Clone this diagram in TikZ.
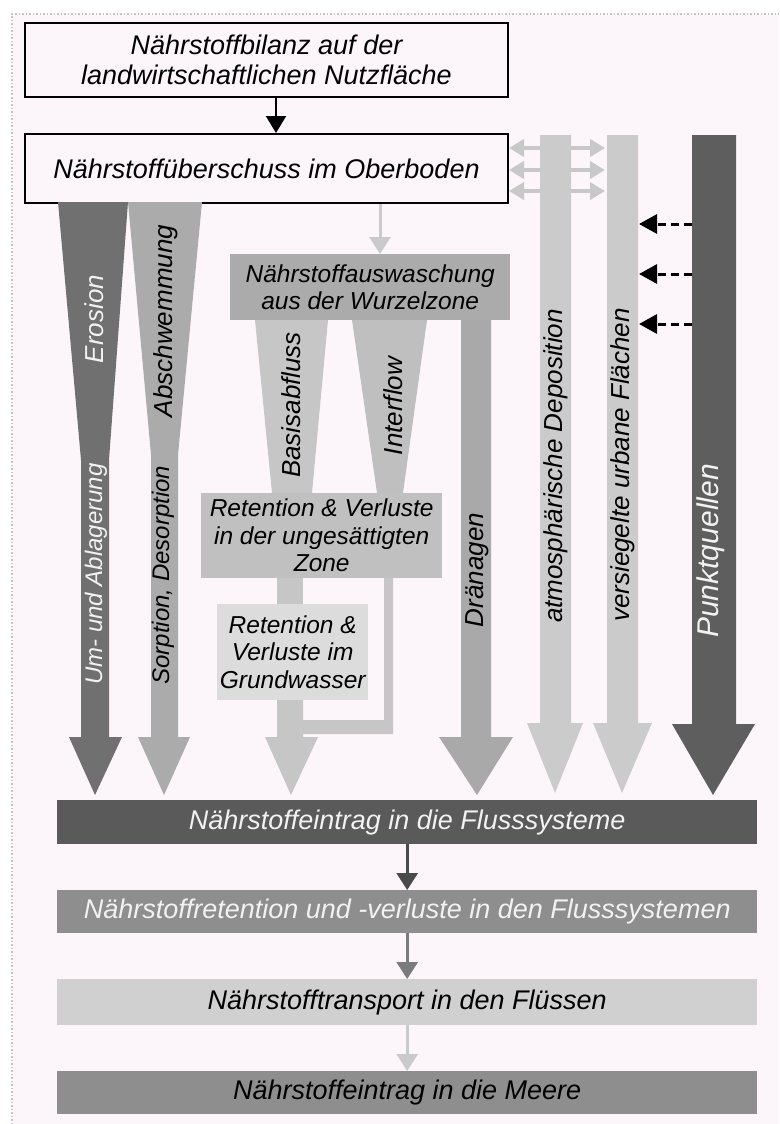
\documentclass[tikz,border=0pt]{standalone}
\usepackage{fontspec}
\setmainfont{Liberation Sans}
\usetikzlibrary{arrows.meta}
\definecolor{bgpink}{HTML}{FCF6FB}
\definecolor{framec}{HTML}{C4C4C4}
\definecolor{erosionc}{HTML}{707070}
\definecolor{absc}{HTML}{ABABAB}
\definecolor{ausc}{HTML}{ABABAB}
\definecolor{basisc}{HTML}{C6C6C6}
\definecolor{interc}{HTML}{BFBFBF}
\definecolor{retonec}{HTML}{C0C0C0}
\definecolor{rettwoc}{HTML}{DCDCDC}
\definecolor{gwc}{HTML}{C6C6C6}
\definecolor{drainc}{HTML}{A9A9A9}
\definecolor{atmosc}{HTML}{CBCBCB}
\definecolor{punktc}{HTML}{5E5E5E}
\definecolor{boxac}{HTML}{5A5A5A}
\definecolor{boxbc}{HTML}{8E8E8E}
\definecolor{boxcc}{HTML}{D0D0D0}
\definecolor{boxdc}{HTML}{8E8E8E}
\definecolor{lighttxt}{HTML}{F2F2F2}
\definecolor{arra}{HTML}{4A4A4A}
\definecolor{arrb}{HTML}{7B7B7B}
\definecolor{arrc}{HTML}{CACACA}
\definecolor{dblc}{HTML}{C8C8C8}
\tikzset{
  big/.style={font=\fontsize{27}{30}\selectfont\itshape, align=center, inner sep=0pt},
  small/.style={font=\fontsize{24.5}{27.5}\selectfont\itshape, align=center, inner sep=0pt},
  wbox/.style={big, draw=black, line width=2pt, fill=bgpink, anchor=north west},
  gbox/.style={anchor=north west, inner sep=0pt, align=center},
  vlbl/.style={font=\fontsize{26}{28}\selectfont\itshape, rotate=90, inner sep=0pt},
  vsmall/.style={font=\fontsize{24}{26}\selectfont\itshape, rotate=90, inner sep=0pt},
  flowarrow/.style={line width=3pt, -{Triangle[width=21pt,length=17pt]}},
  dblarrow/.style={dblc, line width=4pt, {Triangle[width=17pt,length=15pt]}-{Triangle[width=17pt,length=15pt]}},
  dasharrow/.style={black, line width=3pt, dash pattern=on 8pt off 5pt, -{Triangle[width=19pt,length=18pt]}}
}
\begin{document}
\begin{tikzpicture}[x=1pt,y=-1pt]
\useasboundingbox (0,0) rectangle (779,1124);
\fill[white] (0,0) rectangle (779,1124);
\fill[bgpink] (12,14) rectangle (779,1124);
\draw[framec, dotted, line width=1.5pt] (12,1124) -- (12,14) -- (779,14);

% helper coordinates
\coordinate (lx) at (380,0);
\coordinate (bx) at (276,0);
\coordinate (atmosL) at (540,0);
\coordinate (urbanL) at (605,0);
\coordinate (punktL) at (692,0);
\coordinate (urbanR) at (639,0);

% top boxes
\node[wbox, minimum width=483pt, minimum height=74pt] (bilanz) at (24,22)
  {Nährstoffbilanz auf der\\landwirtschaftlichen Nutzfläche};
\node[wbox, minimum width=483pt, minimum height=69pt] (ueberschuss) at (24,133)
  {Nährstoffüberschuss im Oberboden};
\draw[black, line width=2pt, -{Triangle[width=20pt,length=17pt]}]
  (bilanz.south -| bx) -- (ueberschuss.north -| bx);

% Erosion funnel
\fill[erosionc] (58,202) -- (128,202) -- (109,460) -- (109,737) -- (122,737)
  -- (95,795) -- (69,737) -- (81,737) -- (81,460) -- cycle;
% Abschwemmung funnel
\fill[absc] (128,202) -- (202,202) -- (178,455) -- (178,737) -- (190,737)
  -- (164,795) -- (138,737) -- (151,737) -- (151,455) -- cycle;
\node[vlbl, text=lighttxt] (erosion) at (94,319) {Erosion};
\node[vlbl] (abschw) at (166,321) {Abschwemmung};
\node[vsmall, text=lighttxt] (umab) at (96,574) {Um- und Ablagerung};
\node[vsmall] (sorption) at (163,575) {Sorption, Desorption};

% Auswaschung
\node[gbox, small, fill=ausc, minimum width=280pt, minimum height=66pt] (auswaschung) at (230,254)
  {Nährstoffauswaschung\\aus der Wurzelzone};
\draw[arrc, line width=3pt, -{Triangle[width=21pt,length=17pt]}]
  (ueberschuss.south -| lx) -- (auswaschung.north -| lx);

% Basisabfluss and Interflow funnels
\fill[basisc] (255,320) -- (328,320) -- (312,493) -- (272,493) -- cycle;
\fill[interc] (352,320) -- (427,320) -- (403,493) -- (377,493) -- cycle;
\node[vlbl] (basis) at (291,405) {Basisabfluss};
\node[vlbl] (inter) at (393,406) {Interflow};

% groundwater path
\fill[gwc] (277,578) rectangle (303,604);
\fill[gwc] (277,700) -- (303,700) -- (303,737) -- (318,737) -- (291,795)
  -- (265,737) -- (277,737) -- cycle;
\fill[gwc] (384,578) -- (393,578) -- (393,734) -- (303,734) -- (303,720)
  -- (384,720) -- cycle;
\node[gbox, small, fill=retonec, minimum width=241pt, minimum height=85pt] (retone) at (201,493)
  {Retention \& Verluste\\in der ungesättigten\\Zone};
\node[gbox, small, fill=rettwoc, minimum width=151pt, minimum height=96pt] (rettwo) at (217,604)
  {Retention \&\\Verluste im\\Grundwasser};

% Dränagen
\fill[drainc] (461,320) -- (491,320) -- (491,737) -- (513,737) -- (477,795)
  -- (439,737) -- (461,737) -- cycle;
\node[vlbl] (drain) at (477,570) {Dränagen};

% double arrows (behind columns)
\foreach \yy in {148,170,191}
  \draw[dblarrow] (ueberschuss.east |- 0,\yy) -- (urbanL |- 0,\yy);

% atmospheric deposition
\fill[atmosc] (540,135) -- (571,135) -- (571,723) -- (583,723) -- (555,793)
  -- (527,723) -- (540,723) -- cycle;
\node[vlbl] (atmos) at (556,466) {atmosphärische Deposition};
% urban
\fill[atmosc] (607,135) -- (638,135) -- (638,723) -- (652,723) -- (622,793)
  -- (593,723) -- (607,723) -- cycle;
\node[vlbl] (urban) at (623,465) {versiegelte urbane Flächen};
% Punktquellen
\fill[punktc] (692,135) -- (736,135) -- (736,724) -- (755,724) -- (713,795)
  -- (672,724) -- (692,724) -- cycle;
\node[font=\fontsize{30}{32}\selectfont\itshape, rotate=90, inner sep=0pt, text=lighttxt] (punkt) at (711,551) {Punktquellen};

% dashed arrows
\foreach \yy in {224,274,324}
  \draw[dasharrow] (punktL |- 0,\yy) -- (urbanR |- 0,\yy);

% bottom boxes
\node[gbox, big, fill=boxac, text=lighttxt, minimum width=700pt, minimum height=44pt] (eintrag) at (57,800)
  {Nährstoffeintrag in die Flusssysteme};
\node[gbox, big, fill=boxbc, text=lighttxt, minimum width=700pt, minimum height=43pt] (retfluss) at (57,890)
  {Nährstoffretention und -verluste in den Flusssystemen};
\node[gbox, big, fill=boxcc, minimum width=700pt, minimum height=46pt] (transport) at (57,979)
  {Nährstofftransport in den Flüssen};
\node[gbox, big, fill=boxdc, minimum width=700pt, minimum height=43pt] (meere) at (57,1071)
  {Nährstoffeintrag in die Meere};
\draw[flowarrow, arra] (eintrag.south) -- (retfluss.north);
\draw[flowarrow, arrb] (retfluss.south) -- (transport.north);
\draw[flowarrow, arrc] (transport.south) -- (meere.north);
\end{tikzpicture}
\end{document}
